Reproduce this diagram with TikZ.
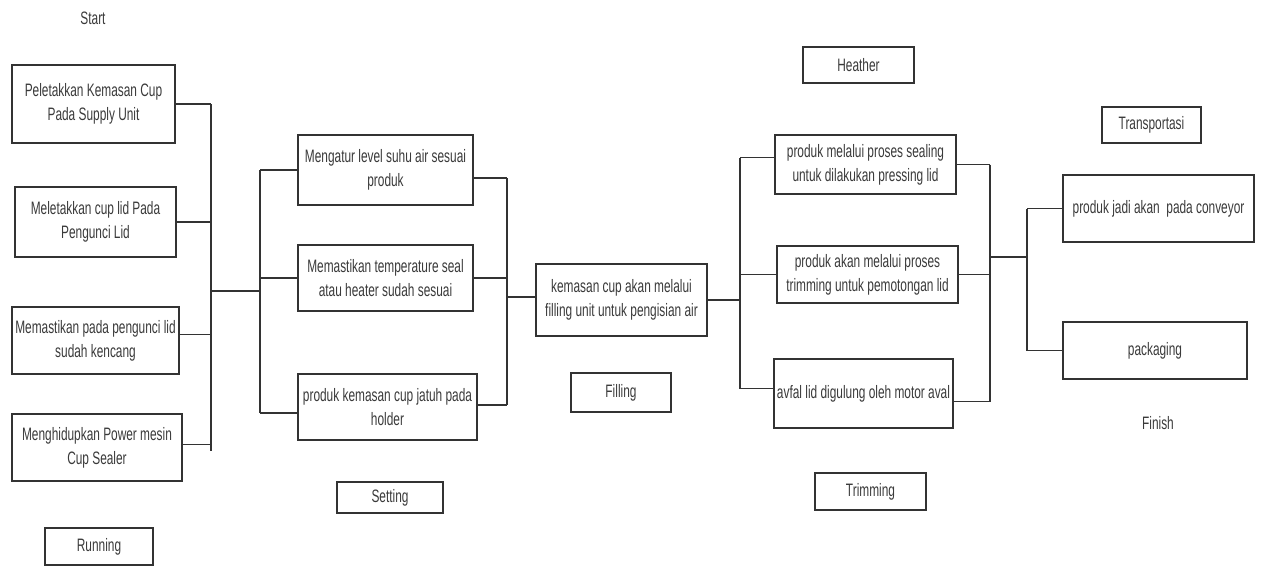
\documentclass[tikz,border=0pt]{standalone}
\usepackage{fontspec}
\setmainfont{Liberation Sans}[FakeStretch=0.66]
\usetikzlibrary{calc}
\definecolor{ink}{HTML}{333333}
\definecolor{txt}{HTML}{3A3A3A}
\begin{document}
\begin{tikzpicture}[x=1pt,y=-1pt,
  box/.style={draw=ink,line width=1.4pt,align=center,inner sep=2pt,
              font=\fontsize{18}{24}\selectfont,text=txt},
  plain/.style={align=center,font=\fontsize{18}{24}\selectfont,text=txt},
  link/.style={draw=ink,line width=1.4pt}]
\useasboundingbox (0,0) rectangle (1262,566);

% Running stage
\node[plain] (start) at (93,18) {Start};
\node[box,minimum width=163pt,minimum height=78pt] (b1) at (93.5,104) {Peletakkan Kemasan Cup\\Pada Supply Unit};
\node[box,minimum width=161pt,minimum height=70pt] (b2) at (95.5,222) {Meletakkan cup lid Pada\\Pengunci Lid};
\node[box,minimum width=167pt,minimum height=67pt] (b3) at (95.5,340.5) {Memastikan pada pengunci lid\\sudah kencang};
\node[box,minimum width=170pt,minimum height=67pt] (b4) at (97,447.5) {Menghidupkan Power mesin\\Cup Sealer};
\node[box,minimum width=108pt,minimum height=37pt] (running) at (99,546.5) {Running};

% Setting stage
\node[box,minimum width=175pt,minimum height=70pt] (s1) at (385.5,170) {Mengatur level suhu air sesuai\\produk};
\node[box,minimum width=175pt,minimum height=66pt] (s2) at (385.5,278) {Memastikan temperature seal\\atau heater sudah sesuai};
\node[box,minimum width=179pt,minimum height=66pt] (s3) at (387.5,407) {produk kemasan cup jatuh pada\\holder};
\node[box,minimum width=106pt,minimum height=31pt] (setting) at (390,497.5) {Setting};

% Filling stage
\node[box,minimum width=171pt,minimum height=72pt] (f) at (621.5,300) {kemasan cup akan melalui\\filling unit untuk pengisian air};
\node[box,minimum width=100pt,minimum height=39pt] (filling) at (621,392.5) {Filling};

% Heather / trimming stage
\node[box,minimum width=111pt,minimum height=36pt] (heather) at (858.5,65) {Heather};
\node[box,minimum width=181pt,minimum height=59pt] (t1) at (865.5,164.5) {produk melalui proses sealing\\untuk dilakukan pressing lid};
\node[box,minimum width=181pt,minimum height=57pt] (t2) at (867.5,274.5) {produk akan melalui proses\\trimming untuk pemotongan lid};
\node[box,minimum width=179pt,minimum height=69pt] (t3) at (863.5,393.5) {avfal lid digulung oleh motor aval};
\node[box,minimum width=111pt,minimum height=37pt] (trimming) at (870.5,491.5) {Trimming};

% Transport stage
\node[box,minimum width=99pt,minimum height=36pt] (transport) at (1151.5,125) {Transportasi};
\node[box,minimum width=191pt,minimum height=67pt] (p1) at (1158.5,208.5) {produk jadi akan\ \ pada conveyor};
\node[box,minimum width=184pt,minimum height=57pt] (p2) at (1155,350.5) {packaging};
\node[plain] (finish) at (1158,423) {Finish};

% bus joints
\coordinate (busA) at (211,291);
\coordinate (busB) at (260,291);
\coordinate (busC) at (507,297);
\coordinate (busD) at (740,299);
\coordinate (busE) at (990,257);
\coordinate (busF) at (1027,257);

% Running -> Setting
\draw[link] (b1.east) -- (b1.east -| busA);
\draw[link] (b2.east) -- (b2.east -| busA);
\draw[link] ($(b3.east)+(0,-6)$) -- ($(b3.east -| busA)+(0,-6)$);
\draw[link] ($(b4.east)+(0,-3)$) -- ($(b4.east -| busA)+(0,-3)$);
\draw[link] (busA |- b1.east) -- ($(busA |- b4.east)+(0,3)$);
\draw[link] (busA) -- (busB);
\draw[link] (busB |- s1.west) -- ($(busB |- s3.west)+(0,6)$);
\draw[link] (busB |- s1.west) -- (s1.west);
\draw[link] (busB |- s2.west) -- (s2.west);
\draw[link] ($(busB |- s3.west)+(0,6)$) -- ($(s3.west)+(0,6)$);

% Setting -> Filling
\draw[link] ($(s1.east)+(0,8)$) -- ($(s1.east -| busC)+(0,8)$);
\draw[link] (s2.east) -- (s2.east -| busC);
\draw[link] ($(s3.east)+(0,-2)$) -- ($(s3.east -| busC)+(0,-2)$);
\draw[link] ($(busC |- s1.east)+(0,8)$) -- ($(busC |- s3.east)+(0,-2)$);
\draw[link] ($(busC |- f.west)+(0,-3)$) -- ($(f.west)+(0,-3)$);

% Filling -> Trimming
\draw[link] (f.east) -- (f.east -| busD);
\draw[link] ($(busD |- t1.west)+(0,-7)$) -- ($(busD |- t3.west)+(0,-5)$);
\draw[link] ($(busD |- t1.west)+(0,-7)$) -- ($(t1.west)+(0,-7)$);
\draw[link] (busD |- t2.west) -- (t2.west);
\draw[link] ($(busD |- t3.west)+(0,-5)$) -- ($(t3.west)+(0,-5)$);

% Trimming -> Transport
\draw[link] (t1.east) -- (t1.east -| busE);
\draw[link] (t2.east) -- (t2.east -| busE);
\draw[link] ($(t3.east)+(0,8)$) -- ($(t3.east -| busE)+(0,8)$);
\draw[link] (busE |- t1.east) -- ($(busE |- t3.east)+(0,8)$);
\draw[link] (busE) -- (busF);
\draw[link] (busF |- p1.west) -- (busF |- p2.west);
\draw[link] (busF |- p1.west) -- (p1.west);
\draw[link] (busF |- p2.west) -- (p2.west);
\end{tikzpicture}
\end{document}
